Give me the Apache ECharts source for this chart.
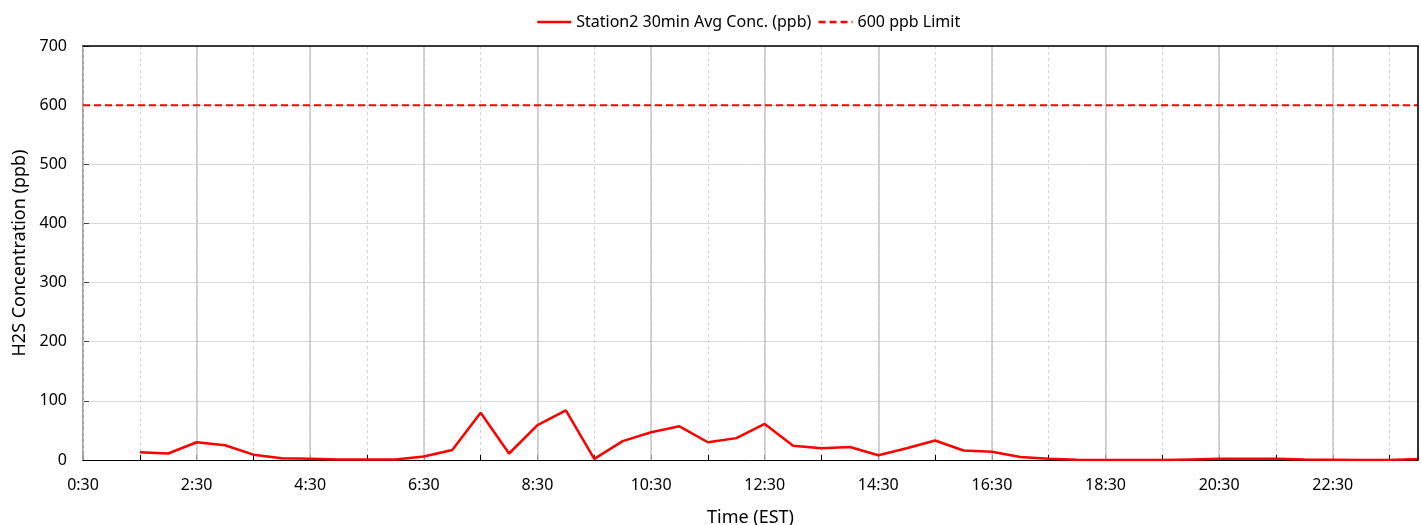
<!DOCTYPE html>
<html>
<head>
<meta charset="utf-8">
<script src="https://cdn.jsdelivr.net/npm/echarts@6/dist/echarts.min.js"></script>
<style>
html,body{margin:0;padding:0;background:#fff;}
#chart{width:1421px;height:525px;}
</style>
</head>
<body>
<div id="chart"></div>
<script>
// ---- data ----
const times = ["1:30","2:00","2:30","3:00","3:30","4:00","4:30","5:00","5:30","6:00",
  "6:30","7:00","7:30","8:00","8:30","9:00","9:30","10:00","10:30","11:00",
  "11:30","12:00","12:30","13:00","13:30","14:00","14:30","15:00","15:30","16:00",
  "16:30","17:00","17:30","18:00","18:30","19:00","19:30","20:00","20:30","21:00",
  "21:30","22:00","22:30","23:00","23:30","24:00"];
const station2 = [13, 11, 30, 25, 9, 3, 2, 1, 1, 1,
  6, 17, 80, 11, 59, 84, 2, 32, 47, 57,
  30, 37, 61, 24, 20, 22, 8, 20, 33, 16,
  14, 5, 2, 0.5, 0, 0, 0, 1, 2, 2,
  2, 1, 0.5, 0, 0, 1.5];
const limitValue = 600;
const axisStart = "0:30";
const axisEnd = "24:00";
const xTickLabels = ["0:30","2:30","4:30","6:30","8:30","10:30","12:30","14:30","16:30","18:30","20:30","22:30"];
const yTicks = [0,100,200,300,400,500,600,700];
const seriesName = "Station2 30min Avg Conc. (ppb)";
const limitName = "600 ppb Limit";

// hours elapsed since axis start
function toHours(s){ const p = s.split(":"); return (+p[0]) + (+p[1])/60; }
const t0 = toHours(axisStart);
const xOf = s => toHours(s) - t0;
const xMax = xOf(axisEnd);
const labelPos = xTickLabels.map(xOf);

const font = "Noto Sans";
const chart = echarts.init(document.getElementById('chart'));
chart.setOption({
  animation: false,
  backgroundColor: '#fff',
  textStyle: { fontFamily: font },
  legend: {
    top: 9, left: 531,
    itemWidth: 34, itemHeight: 14, itemGap: 6,
    itemStyle: { opacity: 0 },
    lineStyle: { width: 2.5 },
    textStyle: { fontFamily: font, fontSize: 16, color: '#000' },
    data: [seriesName, limitName]
  },
  grid: { left: 83, right: 3, top: 46, bottom: 65, show: false, containLabel: false, outerBoundsMode: 'none' },
  xAxis: [{
    type: 'value', min: 0, max: xMax, interval: 2, z: 3,
    name: 'Time (EST)', nameLocation: 'middle', nameGap: 49,
    nameTextStyle: { fontFamily: font, fontSize: 18, color: '#000' },
    axisLine: { show: true, lineStyle: { color: '#000', width: 1 } },
    axisTick: { show: false },
    axisLabel: {
      fontFamily: font, fontSize: 16, color: '#000', margin: 17,
      formatter: v => { const i = labelPos.indexOf(v); return i >= 0 ? xTickLabels[i] : ''; }
    },
    splitLine: { show: true, lineStyle: { color: '#c6c6c6', width: 1.5 } }
  }, {
    type: 'value', min: 0, max: xMax, interval: 1, z: 1, position: 'bottom',
    axisLine: { show: false },
    axisTick: { show: true, inside: true, length: 5, lineStyle: { color: '#000', width: 1 } },
    axisLabel: { show: false },
    splitLine: { show: true, lineStyle: { color: '#d4d4d4', width: 1, type: [3, 3] } }
  }, {
    type: 'value', min: 0, max: xMax, z: 6, position: 'top',
    axisLine: { show: true, onZero: false, lineStyle: { color: '#000', width: 1.5 } },
    axisTick: { show: false }, axisLabel: { show: false }, splitLine: { show: false }
  }],
  yAxis: [{
    type: 'value', min: yTicks[0], max: yTicks[yTicks.length-1], interval: 100,
    name: 'H2S Concentration (ppb)', nameLocation: 'middle', nameGap: 53,
    nameTextStyle: { fontFamily: font, fontSize: 18, color: '#000' },
    axisLine: { show: true, lineStyle: { color: '#000', width: 1.5 } },
    axisTick: { show: true, inside: true, length: 6, lineStyle: { color: '#444' } },
    axisLabel: { fontFamily: font, fontSize: 16, color: '#000', margin: 16 },
    splitLine: { show: true, lineStyle: { color: '#d9d9d9', width: 1 } }
  }, {
    type: 'value', min: yTicks[0], max: yTicks[yTicks.length-1], position: 'right', z: 6,
    axisLine: { show: true, onZero: false, lineStyle: { color: '#000', width: 1.5 } },
    axisTick: { show: false }, axisLabel: { show: false }, splitLine: { show: false }
  }],
  series: [{
    name: seriesName, type: 'line', xAxisIndex: 0, yAxisIndex: 0, symbol: 'none', z: 5,
    lineStyle: { color: '#ff0000', width: 2.5 }, itemStyle: { color: '#ff0000' },
    data: times.map((t, i) => [xOf(t), station2[i]])
  }, {
    name: limitName, type: 'line', xAxisIndex: 0, yAxisIndex: 0, symbol: 'none', z: 4,
    lineStyle: { color: '#ff0000', width: 2, type: [7, 4] }, itemStyle: { color: '#ff0000' },
    data: [[0, limitValue], [xMax, limitValue]]
  }]
});
</script>
</body>
</html>
